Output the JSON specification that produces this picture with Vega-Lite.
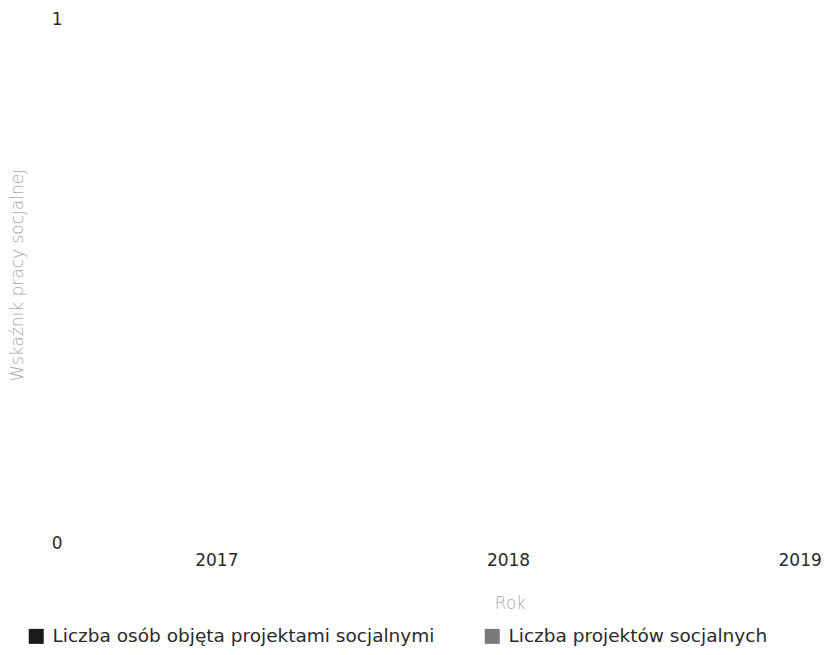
{
  "$schema": "https://vega.github.io/schema/vega-lite/v6.json",
  "autosize": {"type": "none"},
  "padding": {"left": 71, "top": 19, "right": 0, "bottom": 112},
  "width": 755,
  "height": 524,
  "background": "white",
  "data": {
    "values": [
      {"Rok": "2017", "Seria": "Liczba osób objęta projektami socjalnymi", "Wartosc": 0},
      {"Rok": "2017", "Seria": "Liczba projektów socjalnych", "Wartosc": 0},
      {"Rok": "2018", "Seria": "Liczba osób objęta projektami socjalnymi", "Wartosc": 0},
      {"Rok": "2018", "Seria": "Liczba projektów socjalnych", "Wartosc": 0},
      {"Rok": "2019", "Seria": "Liczba osób objęta projektami socjalnymi", "Wartosc": 0},
      {"Rok": "2019", "Seria": "Liczba projektów socjalnych", "Wartosc": 0}
    ]
  },
  "mark": {"type": "bar"},
  "encoding": {
    "x": {
      "field": "Rok",
      "type": "nominal",
      "scale": {"domain": ["2017", "2018", "2019"], "range": [0, 875], "paddingInner": 0.2, "paddingOuter": 0.1},
      "axis": {
        "title": "Rok",
        "labelAngle": 0,
        "domain": false,
        "ticks": false,
        "grid": false,
        "labelPadding": 9,
        "labelFont": "DejaVu Sans",
        "labelFontSize": 17,
        "labelColor": "#2a2a2a",
        "titleFont": "DejaVu Sans",
        "titleFontWeight": 200,
        "titleFontSize": 17,
        "titleColor": "#a8a8a8",
        "titleX": 439,
        "titleY": 60,
        "titleAlign": "center",
        "titleBaseline": "middle"
      }
    },
    "xOffset": {"field": "Seria", "type": "nominal"},
    "y": {
      "field": "Wartosc",
      "type": "quantitative",
      "scale": {"domain": [0, 1], "nice": false},
      "axis": {
        "title": "Wskaźnik pracy socjalnej",
        "values": [0, 1],
        "format": "d",
        "domain": false,
        "ticks": false,
        "grid": false,
        "labelPadding": 9,
        "labelFont": "DejaVu Sans",
        "labelFontSize": 17,
        "labelColor": "#2a2a2a",
        "titleFont": "DejaVu Sans",
        "titleFontWeight": 200,
        "titleFontSize": 17,
        "titleColor": "#a8a8a8",
        "titleX": -54,
        "titleY": 256,
        "titleAngle": -90,
        "titleAlign": "center",
        "titleBaseline": "middle"
      }
    },
    "color": {
      "field": "Seria",
      "type": "nominal",
      "scale": {
        "domain": ["Liczba osób objęta projektami socjalnymi", "Liczba projektów socjalnych"],
        "range": ["#1a1a1a", "#7a7a7a"]
      },
      "legend": {
        "title": null,
        "orient": "none",
        "direction": "horizontal",
        "legendX": -44,
        "legendY": 608,
        "symbolType": "square",
        "symbolSize": 225,
        "symbolStrokeWidth": 0,
        "labelFont": "DejaVu Sans",
        "labelFontSize": 18.5,
        "labelColor": "#2a2a2a",
        "labelOffset": 7,
        "columnPadding": 48,
        "labelLimit": 600
      }
    }
  },
  "config": {"view": {"stroke": null}}
}
